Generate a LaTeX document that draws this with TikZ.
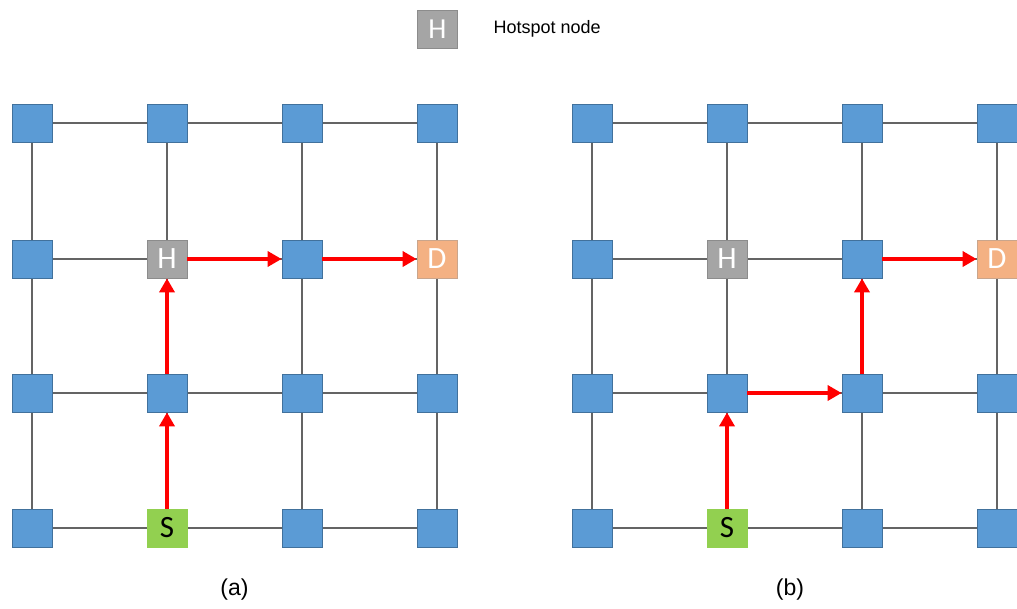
\documentclass[tikz,border=0pt]{standalone}
\usepackage{fontspec}
\setmainfont{Liberation Sans}
\newfontfamily\calib{Carlito}
\usetikzlibrary{arrows.meta}
\definecolor{nblue}{HTML}{5B9BD5}
\definecolor{nblueb}{HTML}{41719C}
\definecolor{ngray}{HTML}{A5A5A5}
\definecolor{ngrayb}{HTML}{8C8C8C}
\definecolor{norange}{HTML}{F4B183}
\definecolor{norangeb}{HTML}{C9A58C}
\definecolor{ngreen}{HTML}{92D050}
\definecolor{ngreenb}{HTML}{92D050}
\definecolor{glink}{HTML}{646464}
\begin{document}
\begin{tikzpicture}[x=1pt,y=-1pt,
  box/.style={rectangle,minimum width=40pt,minimum height=38pt,inner sep=0pt,line width=0.8pt,
    font=\calib\fontsize{31}{31}\selectfont},
  blk/.style={box,fill=nblue,draw=nblueb},
  hot/.style={box,fill=ngray,draw=ngrayb,text=white},
  dst/.style={box,fill=norange,draw=norangeb,text=white},
  src/.style={box,fill=ngreen,draw=ngreenb,text=black},
  link/.style={draw=glink,line width=1.2pt},
  route/.style={draw=red,line width=4.5pt,-{Triangle[length=14pt,width=15pt]}},
  captxt/.style={font=\fontsize{23}{23}\selectfont},
]
\useasboundingbox (0,0) rectangle (1017,608);
% legend
\node[hot,font=\calib\fontsize{29}{29}\selectfont] (leg) at (437.5,29) {H};
\node[anchor=west,font=\fontsize{18}{18}\selectfont] (legt) at (490,29) {Hotspot node};
% grids
\foreach \g/\ox in {a/32,b/592}{
  \foreach \i in {0,1,2,3}{
    \foreach \j/\yy in {0/123,1/259,2/393,3/528}{
      \coordinate (\g\i\j) at (\ox+135*\i,\yy);
    }
  }
}
% links (behind nodes)
\foreach \g in {a,b}{
  \foreach \i in {0,1,2,3}{
    \draw[link] (\g\i0) -- (\g\i3);
    \draw[link] (\g0\i) -- (\g3\i);
  }
}
% nodes
\foreach \g in {a,b}{
  \foreach \i/\j in {0/0,1/0,2/0,3/0,0/1,2/1,0/2,1/2,2/2,3/2,0/3,2/3,3/3}{
    \node[blk] (n\g\i\j) at (\g\i\j) {};
  }
  \node[hot] (n\g11) at (\g11) {H};
  \node[dst] (n\g31) at (\g31) {D};
  \node[src] (n\g13) at (\g13) {S};
}
% routes (a)
\draw[route] (na13.north) -- (na12.south);
\draw[route] (na12.north) -- (na11.south);
\draw[route] (na11.east) -- (na21.west);
\draw[route] (na21.east) -- (na31.west);
% routes (b)
\draw[route] (nb13.north) -- (nb12.south);
\draw[route] (nb12.east) -- (nb22.west);
\draw[route] (nb22.north) -- (nb21.south);
\draw[route] (nb21.east) -- (nb31.west);
% captions
\node[captxt] (capa) at (234.5,590) {(a)};
\node[captxt] (capb) at (790,590) {(b)};
\end{tikzpicture}
\end{document}
